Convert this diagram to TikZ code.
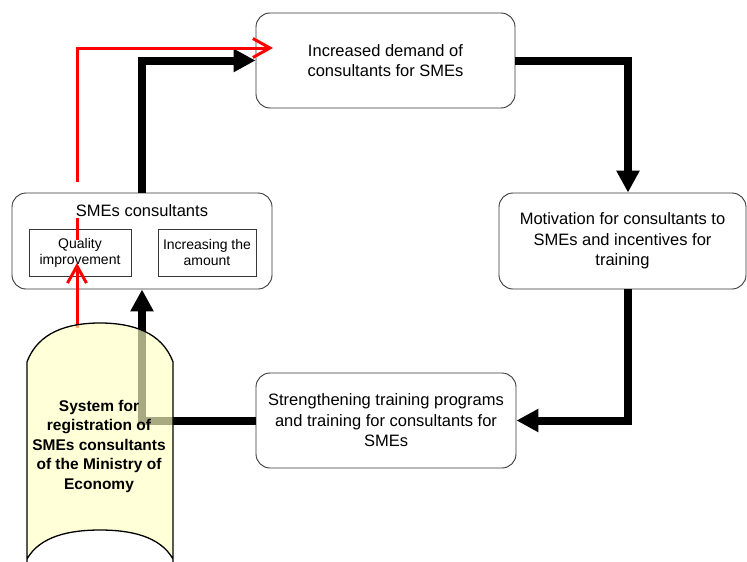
\documentclass[tikz,border=0pt]{standalone}
\usepackage{fontspec}
\setmainfont{Liberation Sans}
\usetikzlibrary{arrows.meta}
\definecolor{scrollfill}{RGB}{255,255,196}
\definecolor{boxline}{RGB}{55,55,55}
\definecolor{redline}{RGB}{255,0,0}
\begin{document}
\begin{tikzpicture}[x=1pt,y=-1pt,
  roundbox/.style={draw=boxline, line width=0.9pt, rounded corners=14pt, fill=white,
    align=center, inner sep=0pt, font=\fontsize{16.5}{20.5}\selectfont},
  subbox/.style={draw=boxline, line width=0.8pt, align=center, inner sep=0pt,
    minimum width=100pt, minimum height=47pt, font=\fontsize{14}{16}\selectfont},
  flow/.style={line width=8pt, line join=miter, -{Triangle[length=22pt,width=22pt]}},
  quality/.style={draw=redline, line width=3pt, line join=miter},
  qualityarrow/.style={quality, -{Straight Barb[length=17pt,width=19pt]}}]
\useasboundingbox (0,0) rectangle (747,562);

% process boxes
\node[roundbox, minimum width=259pt, minimum height=95pt] (demand) at (385.5,60.5)
  {Increased demand of\\consultants for SMEs};
\node[roundbox, minimum width=247pt, minimum height=96pt] (motiv) at (622.5,241)
  {Motivation for consultants to\\SMEs and incentives for\\training};
\node[roundbox, minimum width=260pt, minimum height=95pt] (train) at (386,420.5)
  {Strengthening training programs\\and training for consultants for\\SMEs};
\node[roundbox, minimum width=260pt, minimum height=96pt] (sme) at (142,241) {};
\node[font=\fontsize{16.5}{20}\selectfont, inner sep=0pt] (smetitle) at (142,211) {SMEs consultants};
\node[subbox, minimum width=102pt] (qual) at (80,252.5) {Quality\\improvement};
\node[subbox, minimum width=98pt] (amount) at (207,252.5) {Increasing the\\amount};

% loop of black arrows
\draw[flow] (sme.north) |- (demand.west);
\draw[flow] (demand.east) -| ([xshift=5.5pt]motiv.north);
\draw[flow] ([xshift=5.5pt]motiv.south) |- (train.east);
\draw[flow] (train.west) -| (sme.south);

% red quality path
\coordinate (rstart) at (77,182);
\coordinate (rtip) at (273,48);
\coordinate (rin1) at (77,218);
\coordinate (rin2) at (77,240);
\coordinate (rbase) at (77,328);
\coordinate (rend) at (77,263);
\draw[qualityarrow] (rstart) |- (rtip);
\draw[quality] (rin1) -- (rin2);
\draw[qualityarrow] (rbase) -- (rend);

% registration scroll
\path[draw=black, line width=1.3pt, fill=scrollfill, fill opacity=0.66]
  (27,562) -- (27,362)
  .. controls (38,332) and (68,323) .. (100,323)
  .. controls (132,323) and (162,332) .. (173,362)
  -- (173,562) -- (173,559)
  .. controls (160,536) and (130,530) .. (100,530)
  .. controls (70,530) and (40,536) .. (27,559);
\node[align=center, inner sep=0pt, font=\bfseries\fontsize{15.5}{19.5}\selectfont] (reg) at (99,446)
  {System for\\registration of\\SMEs consultants\\of the Ministry of\\Economy};
\end{tikzpicture}
\end{document}
